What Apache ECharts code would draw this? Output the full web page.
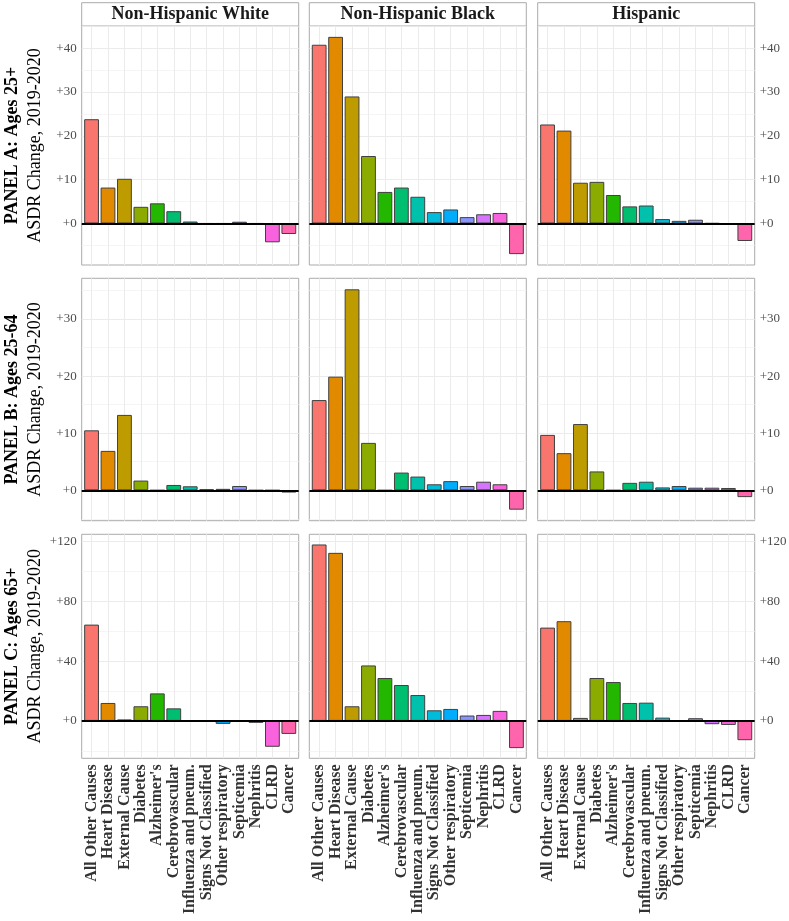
<!DOCTYPE html>
<html><head><meta charset="utf-8">
<script src="https://cdn.jsdelivr.net/npm/echarts@6/dist/echarts.min.js"></script>
<style>html,body{margin:0;padding:0;background:#fff}#c{width:789px;height:921px}</style>
</head><body><div id="c"></div>
<script>
const categories = ['All Other Causes','Heart Disease','External Cause','Diabetes',"Alzheimer's",'Cerebrovascular','Influenza and pneum.','Signs Not Classified','Other respiratory','Septicemia','Nephritis','CLRD','Cancer'];
const groups = ['Non-Hispanic White','Non-Hispanic Black','Hispanic'];
const rowTitles = ['PANEL A: Ages 25+','PANEL B: Ages 25-64','PANEL C: Ages 65+'];
const yTitle = 'ASDR Change, 2019-2020';

// Panel A: Ages 25+
const nhwA = [23.8, 8.2, 10.2, 3.8, 4.6, 2.8, 0.45, 0, 0, 0.4, 0, -4.3, -2.4];
const nhbA = [40.8, 42.6, 29.0, 15.4, 7.2, 8.2, 6.1, 2.6, 3.2, 1.45, 2.1, 2.4, -7.0];
const hisA = [22.6, 21.2, 9.3, 9.5, 6.5, 3.9, 4.1, 1.0, 0.6, 0.85, 0.05, -0.3, -4.0];
// Panel B: Ages 25-64
const nhwB = [10.5, 6.9, 13.2, 1.7, 0, 0.93, 0.7, 0.2, 0.25, 0.75, 0, 0, -0.4];
const nhbB = [15.8, 19.9, 35.2, 8.3, 0, 3.1, 2.4, 1.05, 1.6, 0.75, 1.5, 1.05, -3.4];
const hisB = [9.7, 6.5, 11.6, 3.3, 0, 1.3, 1.5, 0.5, 0.75, 0.45, 0.45, 0.4, -1.2];
// Panel C: Ages 65+
const nhwC = [64.4, 12.0, 1.0, 9.8, 18.4, 8.4, 0, 0, -2.0, 0, -1.3, -17.3, -8.7];
const nhbC = [118, 112.4, 9.8, 37.1, 28.7, 24.0, 17.3, 7.1, 8.0, 3.6, 4.0, 6.7, -18.2];
const hisC = [62.4, 66.7, 2.0, 28.7, 26.0, 12.0, 12.2, 2.2, 0, 1.8, -2.2, -2.7, -12.9];

const majorA = [0, 10, 20, 30, 40], minorA = [-5, 5, 15, 25, 35, 45];
const majorB = [0, 10, 20, 30],     minorB = [-5, 5, 15, 25, 35];
const majorC = [0, 40, 80, 120],    minorC = [-20, 20, 60, 100];

const palette = ['#F8766D','#E18A00','#BE9C00','#8CAB00','#24B700','#00BE70','#00C1AB','#00BBDA','#00ACFC','#8B93FF','#D575FE','#F962DD','#FF65AC'];

const rows = [
  {title: rowTitles[0], data: [nhwA, nhbA, hisA], major: majorA, minor: minorA},
  {title: rowTitles[1], data: [nhwB, nhbB, hisB], major: majorB, minor: minorB},
  {title: rowTitles[2], data: [nhwC, nhbC, hisC], major: majorC, minor: minorC}
];

const FONT = '"Liberation Serif", "Times New Roman", serif';
const colLeft = [81.7, 309.3, 537.7], colW = 217;
const rowTop = [26, 278.3, 534.3], rowH = [239, 242.4, 224];
const stripTop = 2.7;
const borderCol = '#ABABAB';
const idx = categories.map((_, i) => i);

const grid = [], xAxis = [], yAxis = [], series = [], graphic = [];

rows.forEach((row, r) => {
  const all = [].concat(...row.data);
  const lo = Math.min(...all), hi = Math.max(...all);
  const pad = 0.05 * (hi - lo);
  const ymin = lo - pad, ymax = hi + pad;
  for (let c = 0; c < 3; c++) {
    const gi = r * 3 + c;
    grid.push({left: colLeft[c], top: rowTop[r], width: colW, height: rowH[r],
      show: true, borderColor: borderCol, borderWidth: 1, backgroundColor: '#fff',
      containLabel: false, outerBoundsMode: 'none'});
    xAxis.push({gridIndex: gi, type: 'value', min: -0.6, max: 12.6,
      axisLine: {show: false},
      axisTick: {show: false, customValues: idx},
      splitLine: {show: true, lineStyle: {color: '#EBEBEB', width: 1}},
      axisLabel: r === 2 ? {show: true, customValues: idx, formatter: v => categories[Math.round(v)],
        rotate: 90, fontFamily: FONT, fontWeight: 'bold', fontSize: 16, color: '#333333', margin: 6} : {show: false}
    });
    yAxis.push({gridIndex: gi, type: 'value', min: ymin, max: ymax,
      position: c === 2 ? 'right' : 'left',
      axisLine: {show: false},
      axisTick: {show: false, customValues: row.major},
      splitLine: {show: true, lineStyle: {color: '#EBEBEB', width: 1.1}},
      axisLabel: {show: c !== 1, customValues: row.major, formatter: v => '+' + v,
        color: '#4D4D4D', fontSize: 13, fontFamily: FONT, margin: 5}
    });
    yAxis.push({gridIndex: gi, type: 'value', min: ymin, max: ymax,
      position: c === 2 ? 'right' : 'left',
      axisLine: {show: false},
      axisTick: {show: false, customValues: row.minor},
      splitLine: {show: true, lineStyle: {color: '#F3F3F3', width: 0.8}},
      axisLabel: {show: false}
    });
    series.push({type: 'bar', xAxisIndex: gi, yAxisIndex: gi * 2,
      data: row.data[c].map((v, i) => [i, v]),
      barWidth: 0.9 * colW / 13.2,
      itemStyle: {color: p => palette[p.dataIndex], borderColor: '#404040', borderWidth: 1},
      markLine: {silent: true, symbol: ['none', 'none'], label: {show: false},
        lineStyle: {color: '#000', width: 2, type: 'solid'}, data: [{yAxis: 0}]}
    });
  }
  const cy = rowTop[r] + rowH[r] / 2;
  graphic.push({type: 'text', x: 12, y: cy, rotation: Math.PI / 2,
    style: {text: row.title, font: 'bold 18px ' + FONT, fill: '#000', align: 'center', verticalAlign: 'middle'}});
  graphic.push({type: 'text', x: 35, y: cy, rotation: Math.PI / 2,
    style: {text: yTitle, font: '18px ' + FONT, fill: '#000', align: 'center', verticalAlign: 'middle'}});
});

for (let c = 0; c < 3; c++) {
  graphic.push({type: 'rect', shape: {x: colLeft[c], y: stripTop, width: colW, height: rowTop[0] - stripTop},
    style: {fill: '#fff', stroke: borderCol, lineWidth: 1}});
  graphic.push({type: 'text', x: colLeft[c] + colW / 2, y: (stripTop + rowTop[0]) / 2,
    style: {text: groups[c], font: 'bold 18px ' + FONT, fill: '#1A1A1A', align: 'center', verticalAlign: 'middle'}});
}

const chart = echarts.init(document.getElementById('c'), null, {renderer: 'canvas'});
chart.setOption({animation: false, backgroundColor: '#fff', grid, xAxis, yAxis, series, graphic});
</script>
</body></html>
